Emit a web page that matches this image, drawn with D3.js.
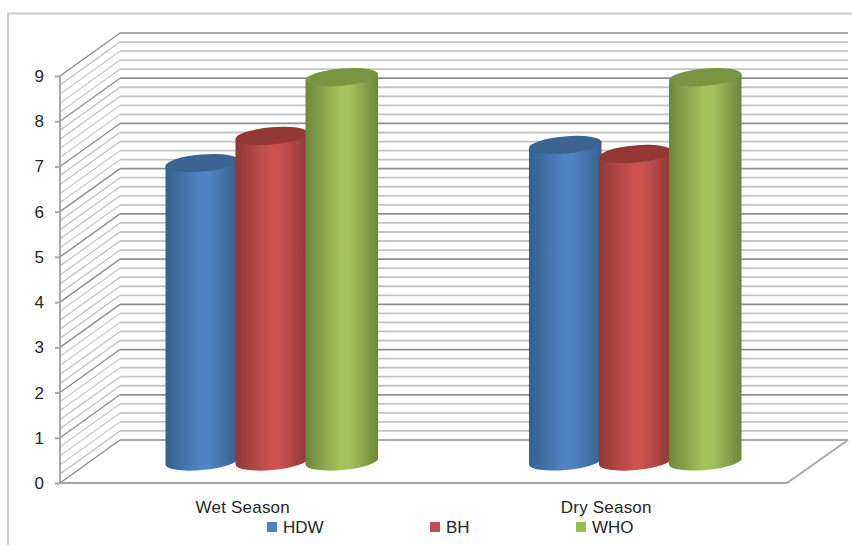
<!DOCTYPE html>
<html>
<head>
<meta charset="utf-8">
<style>
  html, body { margin: 0; padding: 0; background: #fff; }
  svg { display: block; }
  text { font-family: "Liberation Sans", "Open Sans", sans-serif; fill: #262626; }
</style>
<script src="https://cdn.jsdelivr.net/npm/d3@7"></script>
</head>
<body>
<svg id="chart" width="852" height="545"></svg>
<script>
// Chart values
const seasons = ["Wet Season", "Dry Season"];
const seriesNames = ["HDW", "BH", "WHO"];
const hdwValues = [6.6, 7.0];
const bhValues = [7.2, 6.8];
const whoValues = [8.5, 8.5];
const yTicks = [0, 1, 2, 3, 4, 5, 6, 7, 8, 9];
const minorStep = 0.2;

// Series colours: edge shade, highlight, lid, legend key
const edgeColors = ["#36608f", "#8e3937", "#6c8739"];
const midColors = ["#5083c3", "#cc5250", "#a3c35e"];
const lidColors = ["#3b6492", "#943836", "#7b9441"];
const keyColors = ["#4f81bd", "#c0504d", "#9bbb59"];

// Oblique projection of the plot box
const depthX = 60, depthY = -43;
const plotLeft = 60, plotRight = 787;
const wallRightEnd = 848;
const tiltDeg = -5;

const svg = d3.select("#chart");
const x0 = d3.scaleBand().domain(seasons).range([plotLeft, plotRight]);
const x1 = d3.scaleBand().domain(seriesNames).range([-105, 105]);
const y = d3.scaleLinear().domain([0, 9]).range([483, 76]);

// Outer frame, open on the right and at the bottom
svg.append("path")
  .attr("d", "M8,545V13.5H852")
  .attr("fill", "none").attr("stroke", "#cacaca").attr("stroke-width", 2);

// Walls: one line on each wall for every grid step
const gridValues = d3.range(0, Math.round(9 / minorStep) + 1).map(i => +(i * minorStep).toFixed(1));
const isMajor = v => Number.isInteger(v);
const grid = svg.append("g").attr("fill", "none");
gridValues.slice().sort((a, b) => isMajor(a) - isMajor(b)).forEach(v => {
  const py = y(v);
  const major = isMajor(v);
  // receding part on the left wall
  grid.append("line")
    .attr("x1", plotLeft).attr("y1", py)
    .attr("x2", plotLeft + depthX).attr("y2", py + depthY)
    .attr("stroke", major ? "#8e8e8e" : "#bdbdbd")
    .attr("stroke-width", major ? 1.4 : 1.1);
  // back wall
  grid.append("line")
    .attr("x1", plotLeft + depthX).attr("y1", py + depthY)
    .attr("x2", wallRightEnd).attr("y2", py + depthY)
    .attr("stroke", major ? "#8f8f8f" : "#c4c4c4")
    .attr("stroke-width", major ? 1.7 : 1.8);
});

// Floor outline and front axis
svg.append("path")
  .attr("d", `M${plotLeft},${y(0)}H${plotRight}L${wallRightEnd},${y(0) + depthY}`)
  .attr("fill", "none").attr("stroke", "#a8a8a8").attr("stroke-width", 2);
svg.append("line")
  .attr("x1", plotLeft).attr("x2", plotLeft)
  .attr("y1", y(0)).attr("y2", y(9))
  .attr("stroke", "#a8a8a8").attr("stroke-width", 2);

// Value axis ticks and labels
const yAxis = svg.append("g")
  .attr("transform", `translate(${plotLeft},0)`)
  .call(d3.axisLeft(y).tickValues(yTicks).tickSize(5).tickPadding(11).tickFormat(d3.format("d")));
yAxis.select(".domain").remove();
yAxis.selectAll("line").attr("stroke", "#a8a8a8").attr("stroke-width", 2);
yAxis.selectAll("text").attr("font-size", 17).style("fill", "#262626")
  .style("font-family", '"Liberation Sans", sans-serif');

// Gradients running across each cylinder
const defs = svg.append("defs");
seriesNames.forEach((name, i) => {
  const g = defs.append("linearGradient").attr("id", "body-" + name)
    .attr("x1", 0).attr("x2", 1).attr("y1", 0).attr("y2", 0);
  g.append("stop").attr("offset", "0%").attr("stop-color", edgeColors[i]);
  g.append("stop").attr("offset", "48%").attr("stop-color", midColors[i]);
  g.append("stop").attr("offset", "60%").attr("stop-color", midColors[i]);
  g.append("stop").attr("offset", "100%").attr("stop-color", edgeColors[i]);
});

// Cylinders stand halfway back on the floor
const rx = x1.bandwidth() * 0.52;
const ry = 8.6;
const tilt = tiltDeg * Math.PI / 180;
const tiltDx = rx * Math.cos(tilt), tiltDy = rx * Math.sin(tilt);
const allValues = [hdwValues, bhValues, whoValues];

const bars = svg.append("g");
seasons.forEach((season, si) => {
  seriesNames.forEach((name, i) => {
    const value = allValues[i][si];
    const cx = x0(season) + x0.bandwidth() / 2 + x1(name) + x1.bandwidth() / 2 + depthX / 2;
    const baseY = y(0) + depthY / 2;
    const topY = y(value) + depthY / 2;
    const g = bars.append("g");
    g.append("path")
      .attr("d", `M${cx - tiltDx},${topY - tiltDy}` +
        `L${cx - tiltDx},${baseY - tiltDy}` +
        `A${rx},${ry} ${tiltDeg} 0 0 ${cx + tiltDx},${baseY + tiltDy}` +
        `L${cx + tiltDx},${topY + tiltDy}Z`)
      .attr("fill", `url(#body-${name})`);
    g.append("ellipse")
      .attr("rx", rx).attr("ry", ry)
      .attr("transform", `translate(${cx},${topY}) rotate(${tiltDeg})`)
      .attr("fill", lidColors[i]);
  });
});

// Category labels
svg.append("g").selectAll("text").data(seasons).join("text")
  .attr("x", d => x0(d) + x0.bandwidth() / 2 + 1)
  .attr("y", 513)
  .attr("text-anchor", "middle")
  .attr("font-size", 17)
  .attr("letter-spacing", 0.2)
  .text(d => d);

// Legend
const legendX = [267, 430, 576];
const legend = svg.append("g").selectAll("g").data(seriesNames).join("g")
  .attr("transform", (d, i) => `translate(${legendX[i]},522)`);
legend.append("rect").attr("width", 10).attr("height", 10)
  .attr("fill", (d, i) => keyColors[i]);
legend.append("text").attr("x", 16).attr("y", 11).attr("font-size", 17).text(d => d);
</script>
</body>
</html>
